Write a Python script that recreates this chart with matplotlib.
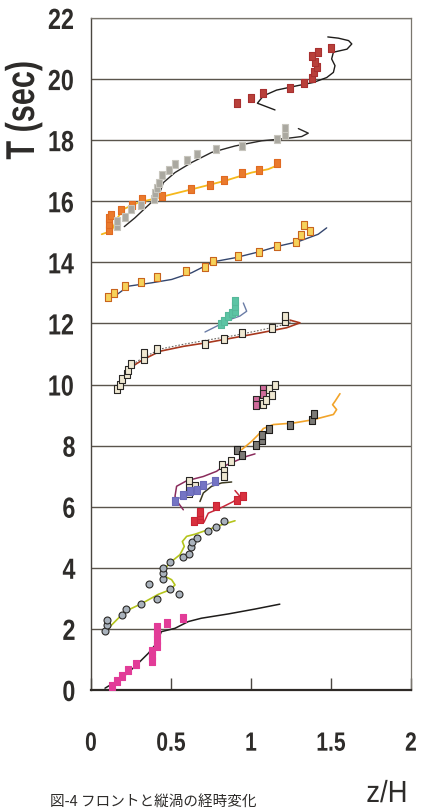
import matplotlib
matplotlib.use("Agg")
import matplotlib.pyplot as plt
from matplotlib.patheffects import AbstractPathEffect
from matplotlib.transforms import Affine2D

# ---- data: z/H versus T (sec) for each run ----
A_pts_x = [0.915, 1.0, 1.077, 1.246, 1.331, 1.379, 1.396, 1.414, 1.398, 1.379, 1.417, 1.5]
A_pts_y = [19.21, 19.37, 19.56, 19.70, 19.87, 20.03, 20.22, 20.40, 20.55, 20.74, 20.90, 21.03]
A_line_x = [1.15, 1.04, 1.077, 1.16, 1.286, 1.39, 1.473, 1.515, 1.525, 1.504, 1.515, 1.60, 1.63, 1.61, 1.546, 1.48]
A_line_y = [18.99, 19.21, 19.45, 19.64, 19.78, 19.89, 20.05, 20.22, 20.44, 20.66, 20.88, 20.98, 21.15, 21.26, 21.34, 21.38]

B_pts_x = [0.1625, 0.1625, 0.2125, 0.248, 0.31, 0.396, 0.40, 0.41, 0.425, 0.446, 0.49, 0.527, 0.598, 0.6625, 0.779, 0.946, 1.164, 1.214, 1.214]
B_pts_y = [15.20, 15.35, 15.50, 15.74, 15.87, 16.07, 16.28, 16.45, 16.61, 16.85, 17.03, 17.21, 17.35, 17.55, 17.70, 17.81, 18.03, 18.18, 18.40]
B_line_x = [0.208, 0.275, 0.348, 0.40, 0.425, 0.4375, 0.452, 0.525, 0.629, 0.754, 0.90, 1.067, 1.21, 1.317, 1.358, 1.296]
B_line_y = [15.17, 15.46, 15.82, 16.07, 16.23, 16.39, 16.61, 16.94, 17.27, 17.60, 17.81, 17.98, 18.05, 18.12, 18.23, 18.38]

C_pts_x = [0.1125, 0.1125, 0.1125, 0.125, 0.19, 0.254, 0.317, 0.446, 0.625, 0.746, 0.829, 0.946, 1.048, 1.16]
C_pts_y = [15.05, 15.25, 15.45, 15.55, 15.71, 15.87, 16.07, 16.17, 16.39, 16.52, 16.69, 16.91, 17.03, 17.24]
C_line_x = [0.067, 0.129, 0.16, 0.202, 0.296, 0.40, 0.483, 0.629, 0.8375, 1.004, 1.108, 1.18]
C_line_y = [14.92, 15.03, 15.41, 15.74, 15.96, 16.09, 16.20, 16.39, 16.67, 16.94, 17.05, 17.21]

D_pts_x = [0.108, 0.144, 0.2125, 0.314, 0.41, 0.596, 0.7125, 0.765, 0.917, 1.048, 1.1625, 1.283, 1.3125, 1.37, 1.33]
D_pts_y = [12.87, 13.0, 13.22, 13.37, 13.52, 13.71, 13.85, 14.04, 14.21, 14.35, 14.53, 14.68, 14.89, 15.03, 15.22]
D_line_x = [0.15, 0.233, 0.379, 0.504, 0.629, 0.765, 0.90, 1.046, 1.17, 1.296, 1.42, 1.473]
D_line_y = [12.9, 13.22, 13.33, 13.44, 13.66, 14.02, 14.15, 14.34, 14.53, 14.68, 14.92, 15.13]

E_pts_x = [0.165, 0.181, 0.196, 0.227, 0.231, 0.248, 0.329, 0.329, 0.41, 0.7125, 0.829, 0.946, 1.131, 1.214, 1.214]
E_pts_y = [9.84, 10.0, 10.19, 10.33, 10.49, 10.66, 10.85, 11.02, 11.15, 11.34, 11.50, 11.69, 11.84, 12.08, 12.24]
E_line_x = [0.181, 0.244, 0.327, 0.431, 0.577, 0.723, 0.89, 1.056, 1.223, 1.306, 1.244]
E_line_y = [9.95, 10.55, 10.82, 11.09, 11.25, 11.37, 11.53, 11.69, 11.86, 12.02, 12.11]
E2_line_x = [0.19, 0.25, 0.33, 0.44, 0.58, 0.72, 0.89, 1.05, 1.20, 1.26]
E2_line_y = [10.0, 10.62, 10.9, 11.17, 11.32, 11.45, 11.60, 11.77, 11.95, 12.08]

T_pts_x = [0.81, 0.83, 0.858, 0.879, 0.90, 0.90, 0.90]
T_pts_y = [11.97, 12.07, 12.24, 12.35, 12.40, 12.56, 12.72]
T_line_x = [0.7125, 0.785, 0.869, 0.93, 0.973, 0.952]
T_line_y = [11.72, 11.91, 12.13, 12.24, 12.40, 12.67]

F1_pts_x = [1.029, 1.029, 1.077, 1.077]
F1_pts_y = [9.49, 9.34, 9.86, 9.70]
F2_pts_x = [1.077, 1.1125, 1.133, 1.094, 1.15]
F2_pts_y = [9.37, 9.84, 9.67, 9.51, 9.98]

G_pts_x = [0.915, 0.944, 1.031, 1.067, 1.067, 1.1125, 1.246, 1.379, 1.394]
G_pts_y = [7.87, 7.70, 8.01, 8.20, 8.34, 8.55, 8.67, 8.83, 9.04]
G_line_x = [0.942, 1.004, 1.046, 1.077, 1.14, 1.265, 1.39, 1.515, 1.535, 1.51, 1.525, 1.556]
G_line_y = [7.87, 8.14, 8.36, 8.56, 8.69, 8.74, 8.85, 9.02, 9.18, 9.34, 9.45, 9.70]

H_pts_x = [0.875, 0.817, 0.829, 0.829, 0.615, 0.65, 0.615, 0.615]
H_pts_y = [7.51, 7.36, 7.16, 6.99, 6.83, 6.69, 6.61, 6.45]
H_line_x = [0.577, 0.546, 0.525, 0.535, 0.598, 0.702, 0.785, 0.827, 0.91, 0.973, 1.025]
H_line_y = [5.90, 6.12, 6.34, 6.67, 6.85, 6.99, 7.16, 7.32, 7.51, 7.65, 7.73]

I_pts_x = [0.525, 0.577, 0.619, 0.66, 0.698, 0.775]
I_pts_y = [6.20, 6.39, 6.50, 6.56, 6.70, 6.83]
I_line_x = [0.525, 0.577, 0.66, 0.775]
I_line_y = [6.20, 6.36, 6.58, 6.83]

J_line_x = [0.681, 0.702, 0.754, 0.817, 0.879]
J_line_y = [6.17, 6.45, 6.67, 6.78, 6.81]

K_pts_x = [0.646, 0.681, 0.681, 0.681, 0.779, 0.915, 0.948]
K_pts_y = [5.52, 5.60, 5.72, 5.84, 6.01, 6.21, 6.36]
K_line_x = [0.706, 0.733, 0.806, 0.89, 0.931, 0.90]
K_line_y = [5.49, 5.79, 5.95, 6.17, 6.34, 6.53]

L_pts_x = [0.0875, 0.1, 0.1, 0.192, 0.217, 0.315, 0.41, 0.3625, 0.494, 0.55, 0.448, 0.448, 0.448,
           0.496, 0.577, 0.615, 0.625, 0.629, 0.66, 0.733, 0.779, 0.829]
L_pts_y = [1.93, 2.13, 2.30, 2.46, 2.66, 2.81, 2.98, 3.48, 3.31, 3.15, 3.64, 3.83, 3.99,
           4.18, 4.34, 4.46, 4.67, 4.83, 4.99, 5.19, 5.35, 5.52]
L_line_x = [0.0875, 0.2125, 0.317, 0.42, 0.494, 0.525, 0.504, 0.4625, 0.452, 0.504, 0.556, 0.583,
            0.571, 0.598, 0.65, 0.733, 0.817, 0.90]
L_line_y = [1.91, 2.57, 2.83, 3.13, 3.28, 3.44, 3.61, 3.72, 3.93, 4.21, 4.43, 4.70,
            4.86, 5.03, 5.10, 5.25, 5.41, 5.54]

M_pts_x = [0.129, 0.16, 0.192, 0.229, 0.279, 0.383, 0.383, 0.383, 0.41, 0.41, 0.41, 0.41, 0.473, 0.577]
M_pts_y = [0.13, 0.31, 0.46, 0.66, 0.84, 0.95, 1.12, 1.28, 1.45, 1.65, 1.85, 2.05, 2.19, 2.35]
M_line_x = [0.0875, 0.19, 0.275, 0.358, 0.41, 0.44, 0.525, 0.608, 0.69, 0.858, 1.025, 1.18]
M_line_y = [0.06, 0.38, 0.77, 1.20, 1.53, 1.91, 2.02, 2.24, 2.35, 2.49, 2.65, 2.81]

x_ticks = [0, 0.5, 1, 1.5, 2]
x_tick_labels = ["0", "0.5", "1", "1.5", "2"]
y_ticks = list(range(0, 23, 2))

caption = "図-4 フロントと縦渦の経時変化"

NUM_FONT = "Liberation Sans"
TXT = "#2e2c2a"


class Narrow(AbstractPathEffect):
    """Squeeze glyph outlines horizontally about their own centre."""

    def __init__(self, sx=0.8):
        super().__init__()
        self.sx = sx

    def draw_path(self, renderer, gc, tpath, affine, rgbFace=None):
        v = tpath.vertices
        cx = 0.5 * (v[:, 0].min() + v[:, 0].max()) if len(v) else 0.0
        squeeze = Affine2D().translate(-cx, 0).scale(self.sx, 1).translate(cx, 0)
        renderer.draw_path(gc, tpath, squeeze + affine, rgbFace)


fig = plt.figure(figsize=(4.22, 8.11), dpi=100, facecolor="white")
ax = fig.add_axes([91 / 422, 1 - 690 / 811, 320 / 422, 672 / 811])
ax.set_xlim(0, 2)
ax.set_ylim(0, 22)

# horizontal grid lines every 2 s
for yv in y_ticks[1:]:
    ax.axhline(yv, color="#5a544c", lw=1.0, zorder=1)

rect = [(-0.7, -1), (0.7, -1), (0.7, 1), (-0.7, 1), (-0.7, -1)]


def curve(x, y, color, lw=1.0, ls="-"):
    ax.plot(x, y, color=color, lw=lw, ls=ls, zorder=3, solid_capstyle="round")


def marks(x, y, face, edge, size=5.5, marker=None, mew=0.8):
    ax.plot(x, y, ls="none", marker=marker if marker is not None else rect,
            ms=size, mfc=face, mec=edge, mew=mew, zorder=4)


curve(A_line_x, A_line_y, "#1e1c1a")
marks(A_pts_x, A_pts_y, "#b8403a", "#a83030")

curve(C_line_x, C_line_y, "#f5b81c", lw=1.3)
marks(C_pts_x, C_pts_y, "#ea7a2c", "#e06a22")
curve(B_line_x, B_line_y, "#2a2826")
marks(B_pts_x, B_pts_y, "#aaa8a0", "#c8c6be")

curve(D_line_x, D_line_y, "#34466e")
marks(D_pts_x, D_pts_y, "#f6d25a", "#c8641e")

curve(E2_line_x, E2_line_y, "#6a6660", lw=0.8, ls=(0, (1.5, 1.5)))
curve(E_line_x, E_line_y, "#a8381e", lw=1.2)
marks(E_pts_x, E_pts_y, "#efe8d2", "#2a2826")

curve(T_line_x, T_line_y, "#6a7ca6")
marks(T_pts_x, T_pts_y, "#5cc4a4", "#56b89a")

marks(F1_pts_x, F1_pts_y, "#d06c9c", "#2a2826")
marks(F2_pts_x, F2_pts_y, "#efe8d2", "#2a2826")

curve(G_line_x, G_line_y, "#f2a42a", lw=1.2)
marks(G_pts_x, G_pts_y, "#7c7a76", "#1e1c1a")

curve(H_line_x, H_line_y, "#8a2c5c", lw=1.1)
marks(H_pts_x, H_pts_y, "#efe8d2", "#2a2826")

curve(I_line_x, I_line_y, "#8a88b8", lw=1.0)
marks(I_pts_x, I_pts_y, "#7474c4", "#6a6ab8")

curve(J_line_x, J_line_y, "#3a3820", lw=1.1)

curve(K_line_x, K_line_y, "#c8283a", lw=1.1)
marks(K_pts_x, K_pts_y, "#d8303e", "#c82434")

curve(L_line_x, L_line_y, "#b4c41c", lw=1.2)
marks(L_pts_x, L_pts_y, "#a9b2bc", "#2a2826", size=5, marker="o")

curve(M_line_x, M_line_y, "#1e1c1a", lw=1.1)
marks(M_pts_x, M_pts_y, "#e23c98", "#e23c98")

# ---- axes frame and ticks ----
for side in ("top", "right"):
    ax.spines[side].set_color("#7a766e")
    ax.spines[side].set_linewidth(0.9)
    ax.spines[side].set_linestyle((0, (4, 1)))
ax.spines["left"].set_color("#4a4640")
ax.spines["left"].set_linewidth(1.0)
ax.spines["bottom"].set_color("#2e2a26")
ax.spines["bottom"].set_linewidth(1.6)

ax.set_xticks(x_ticks)
ax.set_xticklabels(x_tick_labels)
ax.set_yticks(y_ticks)
ax.tick_params(axis="x", direction="in", length=9, width=1.0, color="#4a4640",
               pad=30, labelsize=19, labelcolor=TXT)
ax.tick_params(axis="y", length=0, pad=10, labelsize=21, labelcolor=TXT)
for lab in ax.get_xticklabels() + ax.get_yticklabels():
    lab.set_fontfamily(NUM_FONT)
    lab.set_fontweight("bold")
    lab.set_path_effects([Narrow(0.8)])

fig.text(23 / 422, 1 - 110 / 811, "T (sec)", rotation=90, ha="center", va="center",
         fontsize=29, fontweight="bold", family=NUM_FONT, color=TXT,
         path_effects=[Narrow(0.76)])
fig.text(387 / 422, 1 - 794 / 811, "z/H", ha="center", va="center",
         fontsize=22, family=NUM_FONT, color=TXT, path_effects=[Narrow(0.9)])

# figure caption along the lower edge
fig.text(50 / 422, 2 / 811, caption, ha="left", va="bottom", fontsize=10.5,
         family=["Noto Sans CJK JP", "DejaVu Sans"], color=TXT)

fig.savefig("out.png", dpi=100, facecolor="white")
